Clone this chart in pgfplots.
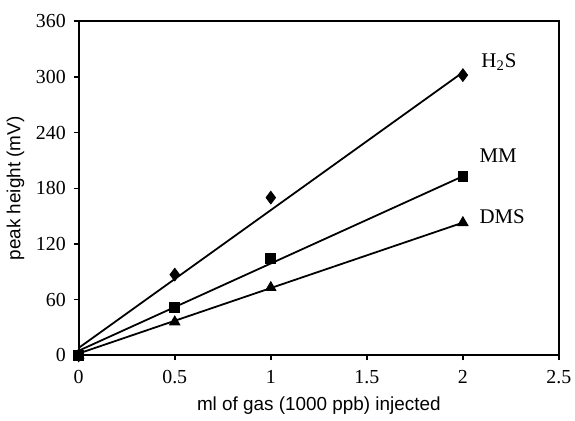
\documentclass[border={0pt 0pt -1.5pt 4pt}]{standalone}
\usepackage{fontspec}
\setmainfont{Liberation Serif}
\newfontfamily\labelfont{Liberation Sans}
\usepackage{pgfplots}
\pgfplotsset{compat=1.18}
\begin{document}
\begin{tikzpicture}
\begin{axis}[
  scale only axis,
  width=241.5pt, height=168pt,
  xmin=0, xmax=2.5, ymin=0, ymax=360,
  xtick={0,0.5,1,1.5,2,2.5},
  ytick={0,60,120,180,240,300,360},
  xticklabels={0,0.5,1,1.5,2,2.5},
  tick align=outside,
  tick pos=left,
  major tick length=2.5pt,
  axis line style={line width=1pt},
  every tick/.style={line width=0.8pt, black},
  tick label style={font=\fontsize{10}{11}\selectfont},
  xticklabel style={yshift=-1.5pt},
  yticklabel style={xshift=-0.5pt},
  /pgf/number format/assume math mode=true,
  xlabel={\labelfont ml of gas (1000 ppb) injected},
  ylabel={\labelfont peak height (mV)},
  label style={font=\fontsize{9.5}{11}\selectfont},
  xlabel style={yshift=0.5pt},
  ylabel style={yshift=-1pt},
  clip=false,
]
% linear fits
\addplot[black, line width=0.9pt] coordinates {(0,8) (2,305)};
\addplot[black, line width=0.9pt] coordinates {(0,5) (2,193)};
\addplot[black, line width=0.9pt] coordinates {(0,2) (2,143)};
% measured points
\addplot[only marks, mark=diamond*, mark size=3.2pt, black] coordinates {(0,0) (0.5,87) (1,170) (2,302)};
\addplot[only marks, mark=square*, mark size=2.5pt, black] coordinates {(0,0) (0.5,52) (1,104) (2,193)};
\addplot[only marks, mark=triangle*, mark size=3pt, black] coordinates {(0,0) (0.5,36) (1,73) (2,143)};
% series names
\node[anchor=west, font=\fontsize{10.5}{11}\selectfont] at (axis cs:2.06,316) {H\textsubscript{2}S};
\node[anchor=west, font=\fontsize{10.5}{11}\selectfont] at (axis cs:2.05,215) {MM};
\node[anchor=west, font=\fontsize{10.5}{11}\selectfont] at (axis cs:2.05,149) {DMS};
\end{axis}
\end{tikzpicture}
\end{document}
